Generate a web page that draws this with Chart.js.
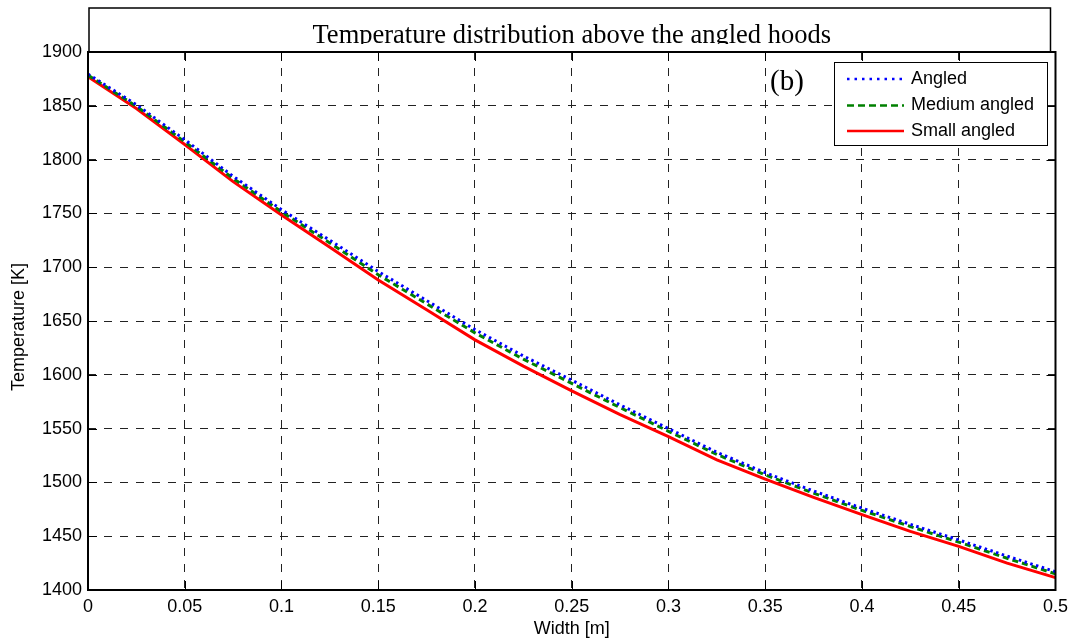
<!DOCTYPE html>
<html>
<head>
<meta charset="utf-8">
<title>Temperature distribution above the angled hoods</title>
<script src="https://cdn.jsdelivr.net/npm/chart.js@4.4.1/dist/chart.umd.min.js"></script>
<style>
    html, body { margin: 0; padding: 0; background: #fff; }
    #chart { display: block; }
</style>
</head>
<body>
<canvas id="chart" width="1074" height="643"></canvas>
<script>
// Width positions [m] and temperature [K] for each hood
const widths = [0, 0.025, 0.05, 0.075, 0.1, 0.125, 0.15, 0.175, 0.2, 0.225, 0.25,
                0.275, 0.3, 0.325, 0.35, 0.375, 0.4, 0.425, 0.45, 0.475, 0.5];
const angled = [1879.5, 1851, 1818.5, 1784.5, 1753.5, 1725, 1696, 1669, 1642, 1617.5, 1595,
                1572, 1550, 1528, 1509, 1492, 1476, 1461, 1446.5, 1431.5, 1417];
const mediumAngled = [1878.5, 1849.5, 1816.5, 1782.5, 1751.5, 1722.5, 1693, 1666, 1639, 1614.5, 1592,
                      1569.5, 1547.5, 1526, 1507, 1490, 1474, 1459, 1444.5, 1429.5, 1415];
const smallAngled = [1877, 1847.5, 1814, 1779.5, 1748.5, 1718.5, 1688, 1660.5, 1632.5, 1608, 1585,
                     1563, 1542.5, 1521, 1503, 1486, 1470, 1454.5, 1440.5, 1425, 1411.5];
const seriesNames = ['Angled', 'Medium angled', 'Small angled'];

const xTickValues = [0, 0.05, 0.1, 0.15, 0.2, 0.25, 0.3, 0.35, 0.4, 0.45, 0.5];
const xTickLabels = ['0', '0.05', '0.1', '0.15', '0.2', '0.25', '0.3', '0.35', '0.4', '0.45', '0.5'];
const yTickValues = [1400, 1450, 1500, 1550, 1600, 1650, 1700, 1750, 1800, 1850, 1900];
const yTickLabels = ['1400', '1450', '1500', '1550', '1600', '1650', '1700', '1750', '1800', '1850', '1900'];

const titleText = 'Temperature distribution above the angled hoods';
const yTitleText = 'Temperature [K]';
const panelTag = '(b)';

const sans = "'Liberation Sans', Arial, sans-serif";
const serif = "'Liberation Serif', 'Times New Roman', serif";

function points(ys) {
    return widths.map((x, i) => ({ x: x, y: ys[i] }));
}

// Boxed title on top of the axes, clipped like the original figure
const titleBox = {
    id: 'titleBox',
    afterDraw(chart) {
        const ctx = chart.ctx;
        const area = chart.chartArea;
        const left = area.left + 1, right = area.right - 5, top = 8, bottom = area.top;
        ctx.save();
        ctx.strokeStyle = '#000';
        ctx.lineWidth = 1.5;
        ctx.strokeRect(left, top, right - left, bottom - top);
        ctx.beginPath();
        ctx.rect(left, top, right - left, 36);
        ctx.clip();
        ctx.fillStyle = '#000';
        ctx.font = '26.5px ' + serif;
        ctx.textAlign = 'center';
        ctx.textBaseline = 'alphabetic';
        ctx.fillText(titleText, (area.left + area.right) / 2, 43);
        ctx.restore();
    }
};

// Axes frame with inward ticks, y label, panel tag and the line-sample legend
const frameAndLegend = {
    id: 'frameAndLegend',
    afterDraw(chart) {
        const ctx = chart.ctx;
        const a = chart.chartArea;
        const xs = chart.scales.x, ys = chart.scales.y;
        ctx.save();
        ctx.strokeStyle = '#000';
        ctx.lineWidth = 1;
        ctx.beginPath();
        xTickValues.forEach(v => {
            const px = Math.round(xs.getPixelForValue(v)) + 0.5;
            ctx.moveTo(px, a.bottom); ctx.lineTo(px, a.bottom - 9);
            ctx.moveTo(px, a.top); ctx.lineTo(px, a.top + 9);
        });
        yTickValues.forEach(v => {
            const py = Math.round(ys.getPixelForValue(v)) + 0.5;
            ctx.moveTo(a.left, py); ctx.lineTo(a.left + 9, py);
            ctx.moveTo(a.right, py); ctx.lineTo(a.right - 9, py);
        });
        ctx.stroke();

        ctx.lineWidth = 2;
        ctx.strokeRect(a.left, a.top, a.right - a.left, a.bottom - a.top);

        ctx.fillStyle = '#000';
        ctx.save();
        ctx.translate(19, 327);
        ctx.rotate(-Math.PI / 2);
        ctx.font = '18px ' + sans;
        ctx.textAlign = 'center';
        ctx.textBaseline = 'middle';
        ctx.fillText(yTitleText, 0, 0);
        ctx.restore();

        ctx.font = '29px ' + serif;
        ctx.textAlign = 'left';
        ctx.textBaseline = 'alphabetic';
        ctx.fillText(panelTag, 770, 90);

        const bx = 834.5, by = 62.5, bw = 213, bh = 83;
        ctx.fillStyle = '#fff';
        ctx.fillRect(bx, by, bw, bh);
        ctx.lineWidth = 1;
        ctx.strokeRect(bx, by, bw, bh);

        const legendDash = [[2.5, 5], [7, 4], []];
        const rowY = [79, 105.5, 131];
        chart.data.datasets.forEach((ds, i) => {
            ctx.beginPath();
            ctx.strokeStyle = ds.borderColor;
            ctx.lineWidth = 2.5;
            ctx.setLineDash(legendDash[i]);
            ctx.moveTo(847, rowY[i]);
            ctx.lineTo(904, rowY[i]);
            ctx.stroke();
            ctx.setLineDash([]);
            ctx.fillStyle = '#000';
            ctx.font = '18px ' + sans;
            ctx.textBaseline = 'middle';
            ctx.fillText(ds.label, 911, rowY[i]);
        });
        ctx.restore();
    }
};

const ctx = document.getElementById('chart').getContext('2d');
const chart = new Chart(ctx, {
    type: 'line',
    data: {
        datasets: [
            {
                label: seriesNames[0],
                data: points(angled),
                borderColor: '#0000ff',
                borderWidth: 3,
                borderDash: [2.5, 3.5]
            },
            {
                label: seriesNames[1],
                data: points(mediumAngled),
                borderColor: '#008000',
                borderWidth: 3,
                borderDash: [6, 4]
            },
            {
                label: seriesNames[2],
                data: points(smallAngled),
                borderColor: '#ff0000',
                borderWidth: 3
            }
        ]
    },
    options: {
        responsive: false,
        animation: false,
        parsing: false,
        elements: {
            point: { radius: 0 },
            line: { tension: 0, fill: false }
        },
        layout: { padding: { left: 0, top: 52, right: 17, bottom: 0 } },
        plugins: {
            legend: { display: false },
            title: { display: false },
            tooltip: { enabled: false }
        },
        scales: {
            x: {
                type: 'linear',
                min: 0,
                max: 0.5,
                afterBuildTicks: (scale) => { scale.ticks = xTickValues.map(v => ({ value: v })); },
                afterFit: (scale) => { scale.height = 53; },
                ticks: {
                    color: '#000',
                    font: { family: sans, size: 18 },
                    padding: 6,
                    maxRotation: 0,
                    autoSkip: false,
                    callback: (v, i) => xTickLabels[i]
                },
                grid: {
                    color: '#222',
                    lineWidth: 1,
                    drawTicks: false
                },
                border: { display: false, dash: [8, 8] },
                title: {
                    display: true,
                    text: 'Width [m]',
                    color: '#000',
                    font: { family: sans, size: 18 },
                    padding: { top: 0, bottom: 3 }
                }
            },
            y: {
                type: 'linear',
                min: 1400,
                max: 1900,
                afterBuildTicks: (scale) => { scale.ticks = yTickValues.map(v => ({ value: v })); },
                afterFit: (scale) => { scale.width = 88; },
                ticks: {
                    color: '#000',
                    font: { family: sans, size: 18 },
                    padding: 6,
                    autoSkip: false,
                    callback: (v, i) => yTickLabels[i]
                },
                grid: {
                    color: '#222',
                    lineWidth: 1,
                    drawTicks: false
                },
                border: { display: false, dash: [8, 8] },
                title: { display: false }
            }
        }
    },
    plugins: [titleBox, frameAndLegend]
});
</script>
</body>
</html>
